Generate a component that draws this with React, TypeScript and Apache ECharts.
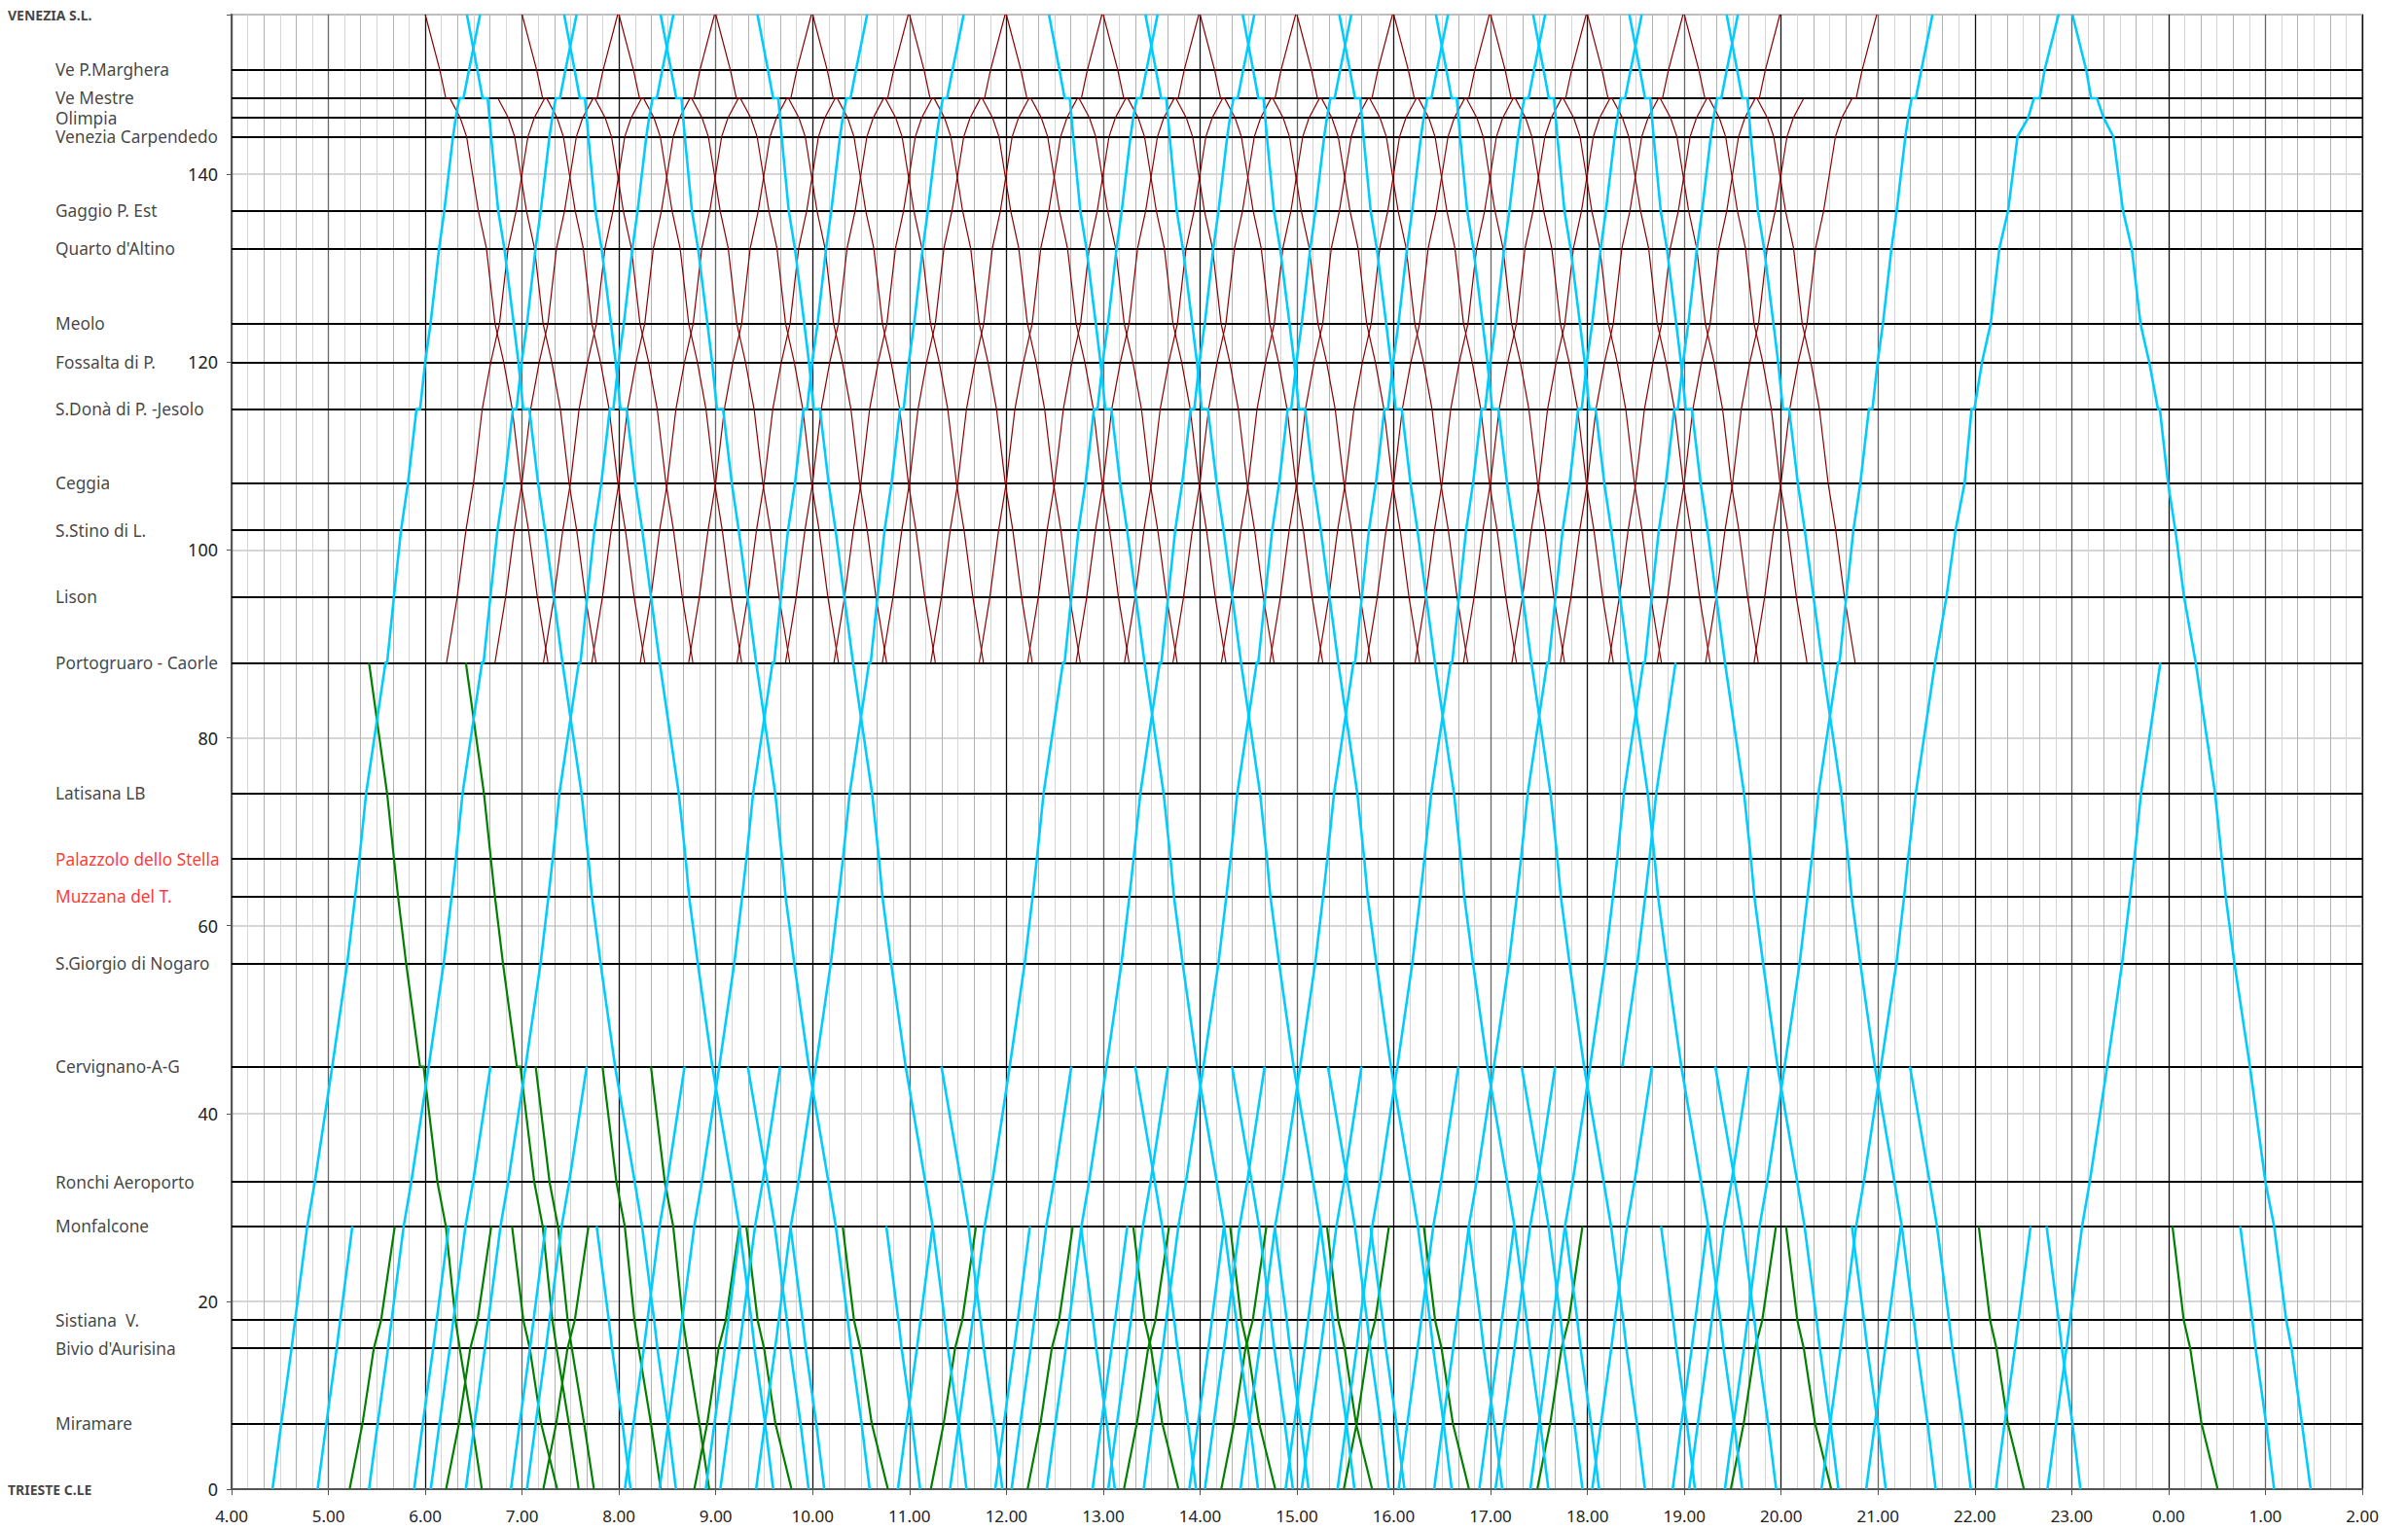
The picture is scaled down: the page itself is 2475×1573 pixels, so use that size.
import React, { useEffect, useRef } from "react";
import * as echarts from "echarts";

// ---------- stations ----------
const STATION_NAMES = [
  "TRIESTE C.LE", "Miramare", "Bivio d'Aurisina", "Sistiana  V.", "Monfalcone", "Ronchi Aeroporto",
  "Cervignano-A-G", "S.Giorgio di Nogaro", "Muzzana del T.", "Palazzolo dello Stella", "Latisana LB",
  "Portogruaro - Caorle", "Lison", "S.Stino di L.", "Ceggia", "S.Donà di P. -Jesolo", "Fossalta di P.",
  "Meolo", "Quarto d'Altino", "Gaggio P. Est", "Venezia Carpendedo", "Olimpia", "Ve Mestre",
  "Ve P.Marghera", "VENEZIA S.L.",
];
const STATION_KM = [0, 7, 15, 18, 28, 32.7, 45, 56, 63.1, 67.1, 74.1, 88, 95, 102.1, 107.1, 115, 120, 124.1, 132.1, 136.1, 144, 146, 148.1, 151.1, 157];
const RED_LABELS = ["Palazzolo dello Stella", "Muzzana del T."];
const BOLD_LABELS = ["TRIESTE C.LE", "VENEZIA S.L."];
const HOUR_LABELS = ["4.00", "5.00", "6.00", "7.00", "8.00", "9.00", "10.00", "11.00", "12.00", "13.00", "14.00", "15.00", "16.00", "17.00", "18.00", "19.00", "20.00", "21.00", "22.00", "23.00", "0.00", "1.00", "2.00"];
const KM_LABELS = [0, 20, 40, 60, 80, 100, 120, 140];

// ---------- running profiles: [km, minutes] ----------
const CYAN_UP_PROFILE = [[0, 0], [7, 5.4], [15, 11.8], [18, 14], [28, 21.5], [32.7, 26.2], [45, 37], [56, 46.3], [63.1, 51.2], [67.1, 53.8], [74.1, 58], [88, 70], [88, 71], [95, 75.2], [102.1, 79.6], [107.1, 83.9], [115, 89.2], [115, 91.4], [120, 94.6], [124.1, 97.9], [132.1, 103.2], [136.1, 106.4], [144, 111.8], [146, 113.5], [148.1, 115.7], [148.1, 118.3], [151.1, 121.7], [157, 128.6]];
const CYAN_DOWN_PROFILE = [[157, 0], [151.1, 6.5], [148.1, 9.7], [148.1, 12.9], [146, 14], [144, 15], [136.1, 19.4], [132.1, 23.2], [124.1, 29], [120, 31.9], [115, 34.9], [115, 38.7], [107.1, 44.1], [102.1, 48.4], [95, 53.8], [88, 59.2], [74.1, 71], [67.1, 75.3], [63.1, 77.4], [56, 82.8], [45, 91.8], [32.7, 104], [28, 108.5], [18, 116], [15, 118], [7, 124.5], [0, 129.5]];
const RED_DOWN_PROFILE = [[157, 0], [151.1, 9], [148.1, 12.7], [148.1, 15.2], [146, 21.7], [144, 25.6], [136.1, 32.9], [132.1, 37.9], [124.1, 43.2], [120, 48.6], [115, 53.9], [107.1, 59.3], [102.1, 64], [95, 69.4], [88, 76]];
const RED_UP_PROFILE = [[88, 0], [95, 6.6], [102.1, 12], [107.1, 16.7], [115, 22.1], [120, 27.4], [124.1, 32.8], [132.1, 38.1], [136.1, 43.1], [144, 50.4], [146, 54.3], [148.1, 60.8], [148.1, 63.3], [151.1, 67], [157, 76]];
const GREEN_UP_PROFILE = [[0, 0], [7, 8], [15, 15], [18, 19.5], [28, 28]];
const GREEN_SHUTTLE_DOWN_PROFILE = [[28, 0], [18, 7], [15, 11], [7, 18], [0, 28]];
const GREEN_DOWN_PROFILE = [[88, 0], [74.1, 11.2], [67.1, 15.5], [63.1, 18], [56, 23], [45, 31.6], [45, 33.8], [32.7, 42.4], [28, 47.6], [18, 53.6], [15, 56.2], [7, 63.8], [0, 69.9]];

// ---------- timetables (hours) ----------
const CYAN_UP_TS_VE = [4.423, 5.419, 6.419, 8.419, 9.416, 11.418, 12.417, 13.418, 14.417, 15.42, 16.417, 17.41, 19.419];
const CYAN_DOWN_VE_TS = [6.43, 7.434, 8.43, 9.43, 12.44, 13.436, 14.44, 15.438, 16.435, 17.439, 18.433, 19.437];
const CYAN_UP_TS_CERV = [6.057, 7.05, 8.061, 9.047, 12.054, 13.052, 14.05, 15.05, 16.05, 17.05, 18.049, 19.05];
const CYAN_DOWN_CERV_TS = [9.33, 11.33, 13.33, 14.33, 15.32, 17.32, 19.32, 21.33];
const CYAN_UP_TS_MONF = [4.889, 5.885, 6.885, 8.896, 10.88, 11.885, 12.89, 13.889, 14.883, 16.883, 18.88, 20.878, 22.217];
const CYAN_DOWN_MONF_TS = [7.77, 9.77, 10.76, 12.77, 14.77, 15.76, 16.77, 17.77, 18.76, 20.73, 22.74, 24.74];
const CYAN_UP_TS_PORTO = [22.749];
const CYAN_UP_CERV_PORTO = [18.36];
const CYAN_SPECIAL = [
  [[20.416, 0], [20.506, 7], [20.613, 15], [20.65, 18], [20.774, 28], [20.853, 32.7], [21.03, 45], [21.19, 56], [21.27, 63.1], [21.31, 67.1], [21.39, 74.1], [21.589, 88], [21.707, 95], [21.8, 102.1], [21.894, 107.1], [21.966, 115], [21.995, 115], [22.074, 120], [22.163, 124.1], [22.253, 132.1], [22.343, 136.1], [22.44, 144], [22.55, 146], [22.61, 148.1], [22.67, 148.1], [22.72, 151.1], [22.864, 157]],
  [[23.007, 157], [23.15, 151.1], [23.2, 148.1], [23.26, 148.1], [23.33, 146], [23.43, 144], [23.53, 136.1], [23.62, 132.1], [23.71, 124.1], [23.8, 120], [23.89, 115], [23.91, 115], [23.995, 107.1], [24.07, 102.1], [24.16, 95], [24.28, 88], [24.48, 74.1], [24.55, 67.1], [24.59, 63.1], [24.68, 56], [24.84, 45], [25.0, 32.7], [25.09, 28], [25.215, 18], [25.27, 15], [25.377, 7], [25.467, 0]],
];
const GREEN_UP_TS_MONF = [5.219, 6.215, 7.219, 8.778, 11.22, 12.219, 13.214, 14.219, 15.484, 17.482, 19.48];
const GREEN_DOWN_MONF_TS = [6.896, 9.315, 10.31, 13.31, 14.31, 15.31, 16.31, 20.05, 22.04, 24.04];
const GREEN_DOWN_PORTO_TS = [5.419, 6.419];
const GREEN_DOWN_CERV_TS = [7.14, 7.83, 8.33];
const RED_DOWN_VE = [6, 7, 8, 9, 10, 11, 12, 13, 14, 15, 16, 17, 18, 19];
const RED_DOWN_MESTRE = [6.75, 7.75, 8.75, 9.75, 10.75, 11.75, 12.75, 13.75, 14.75, 15.75, 16.75, 17.75, 18.75, 19.75];
const RED_UP_PORTO_MESTRE = [6.22, 7.22, 8.22, 9.22, 10.22, 11.22, 12.22, 13.22, 14.22, 15.22, 16.22, 17.22, 18.22, 19.22];
const RED_UP_PORTO_VE = [6.72, 7.72, 8.72, 9.72, 10.72, 11.72, 12.72, 13.72, 14.72, 15.72, 16.72, 17.72, 18.72, 19.72];

// build [minutes-of-day, km] points of one run
function trip(profile: number[][], t0: number, fromKm: number, toKm: number): number[][] {
  let s = 0;
  profile.forEach((p, i) => { if (p[0] === fromKm) s = i; });
  let e = profile.length - 1;
  for (let i = s + 1; i < profile.length; i++) { if (profile[i][0] === toKm) { e = i; break; } }
  const base = profile[s][1];
  return profile.slice(s, e + 1).map((p) => [t0 * 60 + (p[1] - base), p[0]]);
}

export default function App() {
  const ref = useRef<HTMLDivElement>(null);
  useEffect(() => {
    if (!ref.current) return;
    const chart = echarts.init(ref.current, null, { renderer: "svg" });
    const FONT = "Noto Sans";

    const cyan = [
      ...CYAN_UP_TS_VE.map((t) => trip(CYAN_UP_PROFILE, t, 0, 157)),
      ...CYAN_DOWN_VE_TS.map((t) => trip(CYAN_DOWN_PROFILE, t, 157, 0)),
      ...CYAN_UP_TS_CERV.map((t) => trip(CYAN_UP_PROFILE, t, 0, 45)),
      ...CYAN_DOWN_CERV_TS.map((t) => trip(CYAN_DOWN_PROFILE, t, 45, 0)),
      ...CYAN_UP_TS_MONF.map((t) => trip(CYAN_UP_PROFILE, t, 0, 28)),
      ...CYAN_DOWN_MONF_TS.map((t) => trip(CYAN_DOWN_PROFILE, t, 28, 0)),
      ...CYAN_UP_TS_PORTO.map((t) => trip(CYAN_UP_PROFILE, t, 0, 88)),
      ...CYAN_UP_CERV_PORTO.map((t) => trip(CYAN_UP_PROFILE, t, 45, 88)),
      ...CYAN_SPECIAL.map((tr) => tr.map((p) => [p[0] * 60, p[1]])),
    ].map((c) => ({ coords: c }));
    const green = [
      ...GREEN_UP_TS_MONF.map((t) => trip(GREEN_UP_PROFILE, t, 0, 28)),
      ...GREEN_DOWN_MONF_TS.map((t) => trip(GREEN_SHUTTLE_DOWN_PROFILE, t, 28, 0)),
      ...GREEN_DOWN_PORTO_TS.map((t) => trip(GREEN_DOWN_PROFILE, t, 88, 0)),
      ...GREEN_DOWN_CERV_TS.map((t) => trip(GREEN_DOWN_PROFILE, t, 45, 0)),
    ].map((c) => ({ coords: c }));
    const red = [
      ...RED_DOWN_VE.map((t) => trip(RED_DOWN_PROFILE, t, 157, 88)),
      ...RED_DOWN_MESTRE.map((t) => trip(RED_DOWN_PROFILE, t, 148.1, 88)),
      ...RED_UP_PORTO_MESTRE.map((t) => trip(RED_UP_PROFILE, t, 88, 148.1)),
      ...RED_UP_PORTO_VE.map((t) => trip(RED_UP_PROFILE, t, 88, 157)),
    ].map((c) => ({ coords: c }));

    const XMIN = 240, XMAX = 1560;
    const stationLines = STATION_KM.filter((k) => k > 0 && k < 157).map((k) => ({ coords: [[XMIN, k], [XMAX, k]] }));

    const labelData = STATION_NAMES.map((n, i) => {
      const bold = BOLD_LABELS.includes(n);
      return {
        value: [XMIN, STATION_KM[i]],
        name: n,
        label: bold
          ? { fontSize: 14, fontWeight: "bold", offset: [-230, 0], color: "#111" }
          : { fontSize: 17.3, offset: [-181, 0], color: RED_LABELS.includes(n) ? "#ff0000" : "#111" },
      };
    });

    const hiddenX = (interval: number, color: string) => ({
      type: "value", min: XMIN, max: XMAX, interval, position: "bottom",
      axisLine: { show: false }, axisTick: { show: false }, axisLabel: { show: false },
      splitLine: { show: true, lineStyle: { color, width: 1 } },
    });

    chart.setOption({
      animation: false,
      backgroundColor: "#ffffff",
      textStyle: { fontFamily: FONT },
      grid: { left: 238, top: 15, right: 47, bottom: 42, show: true, borderColor: "#9a9a9a", borderWidth: 2, backgroundColor: "transparent" },
      xAxis: [
        hiddenX(10, "#d6d6d6"),
        hiddenX(20, "#b2b2b2"),
        {
          type: "value", min: XMIN, max: XMAX, interval: 60, position: "bottom",
          axisLine: { show: true, onZero: false, lineStyle: { color: "#555", width: 2 } },
          axisTick: { show: true, length: 6, lineStyle: { color: "#555" } },
          axisLabel: { margin: 19, fontSize: 17, color: "#222", fontFamily: FONT, formatter: (v: number) => HOUR_LABELS[Math.round((v - XMIN) / 60)] ?? "" },
          splitLine: { show: true, lineStyle: { color: ["#111", "#666"], width: 1.3 } },
        },
      ],
      yAxis: {
        type: "value", min: 0, max: 157, interval: 20,
        axisLine: { show: true, onZero: false, lineStyle: { color: "#555", width: 2 } },
        axisTick: { show: true, length: 5, lineStyle: { color: "#555" } },
        axisLabel: { margin: 14, fontSize: 18, color: "#222", fontFamily: FONT, formatter: (v: number) => (KM_LABELS.includes(v) ? String(v) : "") },
        splitLine: { show: true, lineStyle: { color: "#c8c8c8", width: 1.5 } },
      },
      series: [
        { type: "lines", name: "stations", coordinateSystem: "cartesian2d", xAxisIndex: 2, silent: true, z: 3, lineStyle: { color: "#000", width: 2, opacity: 1 }, data: stationLines },
        { type: "lines", name: "Portogruaro-Venezia", coordinateSystem: "cartesian2d", xAxisIndex: 2, polyline: true, silent: true, z: 4, lineStyle: { color: "#8b0000", width: 1.2, opacity: 1 }, data: red },
        { type: "lines", name: "locali", coordinateSystem: "cartesian2d", xAxisIndex: 2, polyline: true, silent: true, z: 5, lineStyle: { color: "#008000", width: 2.2, opacity: 1 }, data: green },
        { type: "lines", name: "Trieste-Venezia", coordinateSystem: "cartesian2d", xAxisIndex: 2, polyline: true, silent: true, z: 6, lineStyle: { color: "#00ccff", width: 2.6, opacity: 1 }, data: cyan },
        {
          type: "scatter", name: "labels", xAxisIndex: 2, symbolSize: 1, silent: true, clip: false, z: 7,
          itemStyle: { color: "transparent" },
          label: { show: true, position: "inside", align: "left", verticalAlign: "middle", formatter: "{b}", fontFamily: FONT },
          data: labelData,
        },
      ],
    });
    return () => chart.dispose();
  }, []);
  return <div ref={ref} style={{ position: "absolute", left: 0, top: 0, width: 2475, height: 1573, background: "#fff" }} />;
}
